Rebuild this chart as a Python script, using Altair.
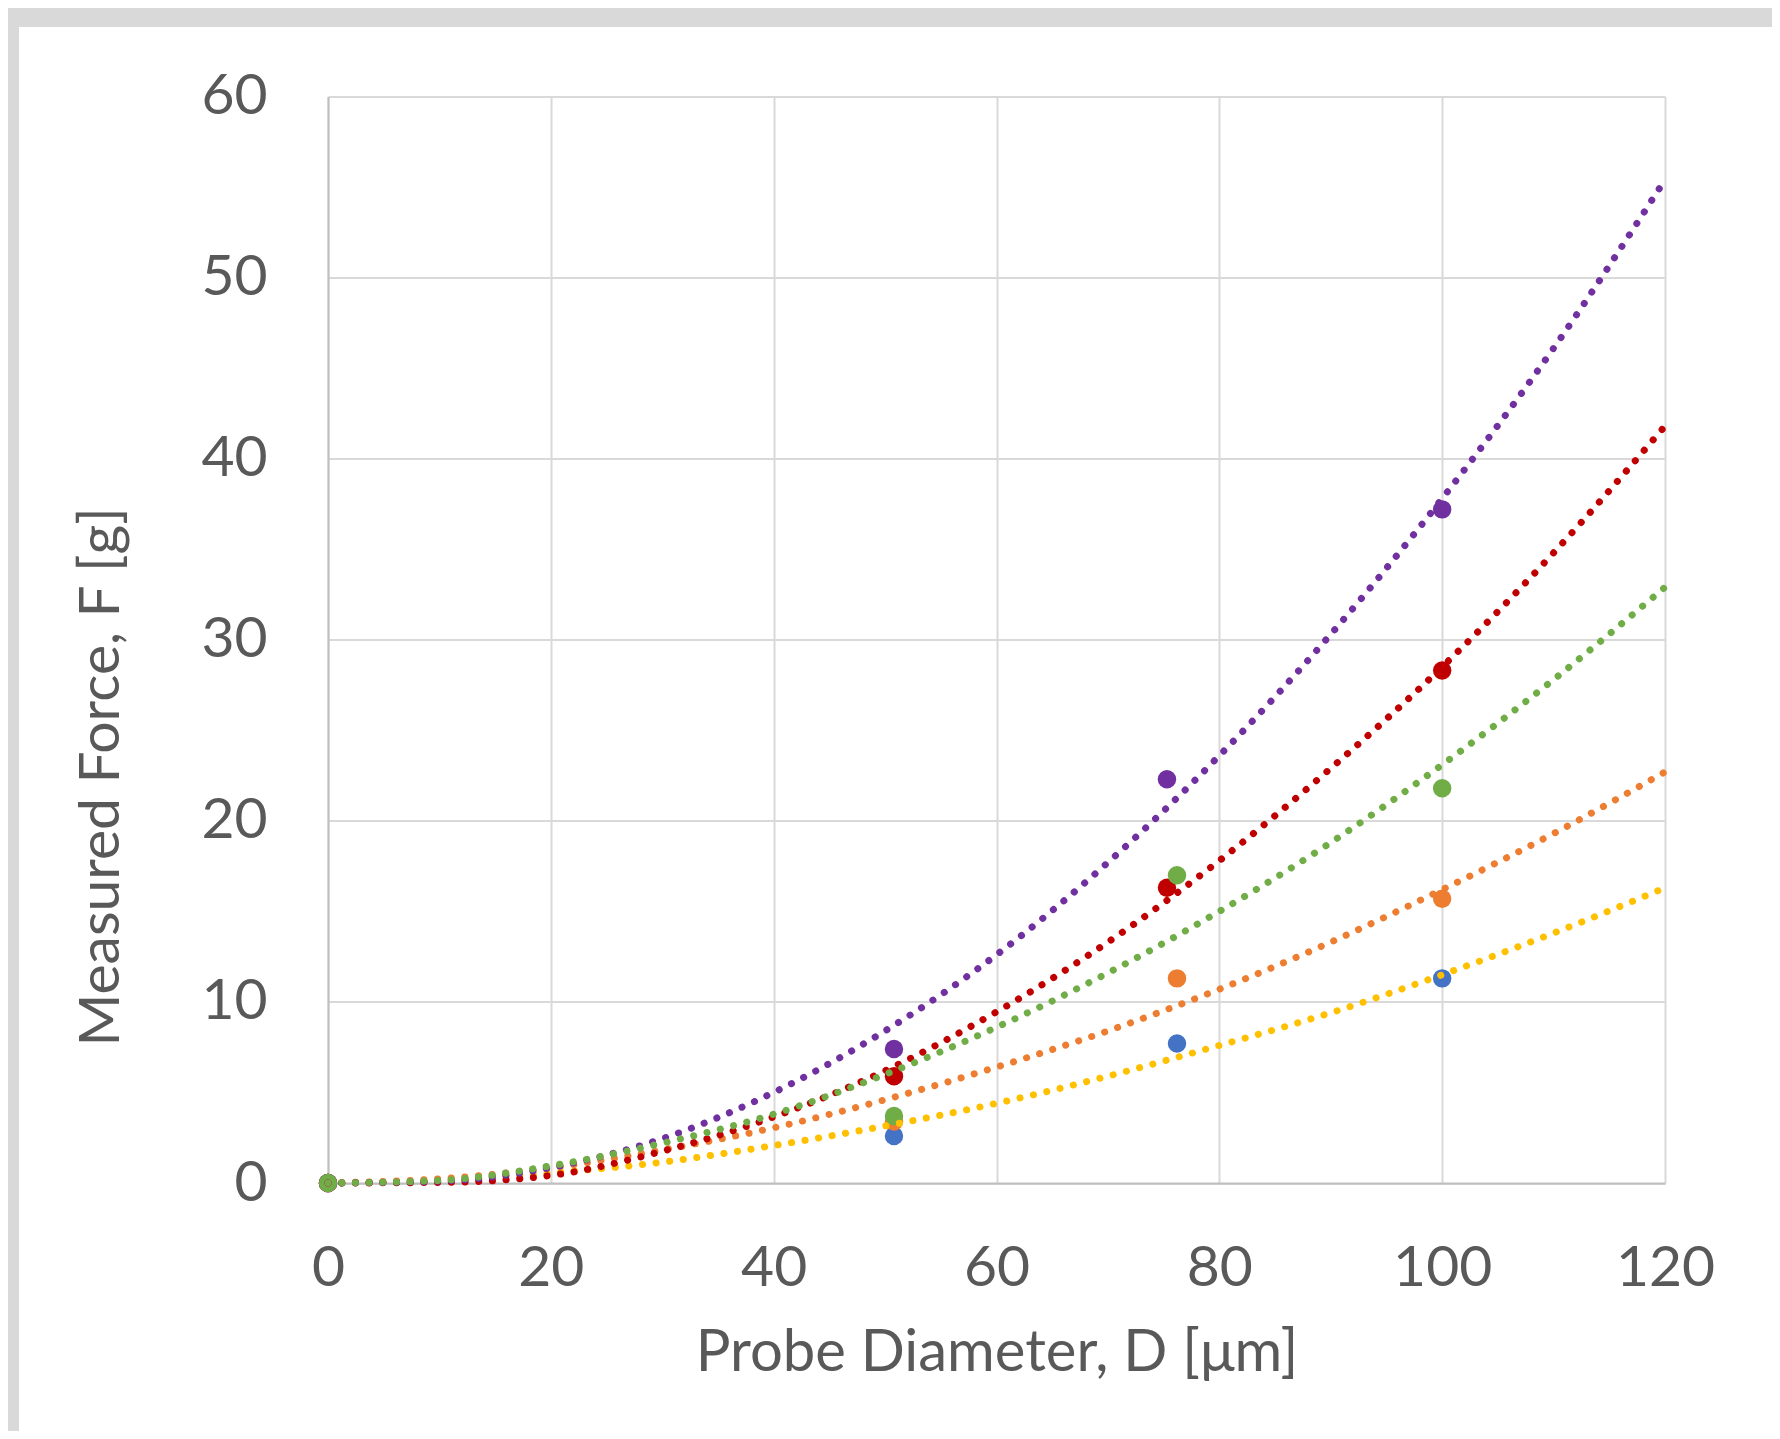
import altair as alt
import pandas as pd

# ---- measured points ----
series_names = ["Blue", "Orange", "Red", "Purple", "Green"]
point_colors = ["#4472C4", "#ED7D31", "#C00000", "#7030A0", "#70AD47"]
blue_x = [0, 50.8, 76.2, 100.0]
blue_y = [0, 2.6, 7.7, 11.3]
orange_x = [0, 50.8, 76.2, 100.0]
orange_y = [0, 3.4, 11.3, 15.7]
red_x = [0, 50.8, 75.3, 100.0]
red_y = [0, 5.9, 16.3, 28.3]
purple_x = [0, 50.8, 75.3, 100.0]
purple_y = [0, 7.4, 22.3, 37.2]
green_x = [0, 50.8, 76.2, 100.0]
green_y = [0, 3.7, 17.0, 21.8]

# ---- dotted trendlines ----
trend_names = ["Blue fit", "Orange fit", "Red fit", "Purple fit", "Green fit"]
trend_colors = ["#FFC000", "#ED7D31", "#C00000", "#7030A0", "#70AD47"]
trend_x = [0, 10, 20, 30, 40, 50, 60, 70, 80, 90, 100, 110, 120]
trend_blue = [0, 0.15, 0.56, 1.15, 2.07, 3.15, 4.4, 5.9, 7.6, 9.4, 11.5, 13.8, 16.3]
trend_orange = [0, 0.23, 0.84, 1.83, 3.05, 4.6, 6.4, 8.4, 10.7, 13.3, 16.2, 19.3, 22.7]
trend_red = [0, 0.03, 0.42, 1.75, 3.65, 6.2, 9.45, 13.3, 17.8, 22.9, 28.5, 34.8, 41.8]
trend_purple = [0, 0.1, 0.85, 2.45, 5.0, 8.4, 12.6, 17.7, 23.6, 30.3, 37.8, 46.1, 55.4]
trend_green = [0, 0.14, 0.95, 2.2, 3.8, 6.0, 8.6, 11.6, 15.0, 18.8, 23.1, 27.8, 32.9]

x_ticks = [0, 20, 40, 60, 80, 100, 120]
y_ticks = [0, 10, 20, 30, 40, 50, 60]

# ---- build tables ----
pts_rows = []
for name, col, xs, ys in zip(series_names, point_colors,
                             [blue_x, orange_x, red_x, purple_x, green_x],
                             [blue_y, orange_y, red_y, purple_y, green_y]):
    for xv, yv in zip(xs, ys):
        pts_rows.append({"series": name, "color": col, "D": xv, "F": yv})
pts = pd.DataFrame(pts_rows)
pts["order"] = range(len(pts))

tr_rows = []
for name, col, ys in zip(trend_names, trend_colors,
                         [trend_blue, trend_orange, trend_red, trend_purple, trend_green]):
    for xv, yv in zip(trend_x, ys):
        tr_rows.append({"series": name, "color": col, "D": xv, "F": yv})
tr = pd.DataFrame(tr_rows)

W, H = 1337, 1086.5
FONT = "Lato"
GRAY = "#595959"

x_enc = alt.X("D:Q", scale=alt.Scale(domain=[0, 120], nice=False),
              axis=alt.Axis(values=x_ticks, title="Probe Diameter, D [μm]",
                            grid=True, gridColor="#d9d9d9", gridWidth=2,
                            domainColor="#bfbfbf", domainWidth=2,
                            ticks=False, tickSize=0, labelFlush=False,
                            labelFont=FONT, labelFontSize=57, labelColor=GRAY,
                            labelBaseline="alphabetic", labelPadding=102,
                            titleFont=FONT, titleFontSize=58, titleColor=GRAY,
                            titleFontWeight="normal", titleBaseline="alphabetic",
                            titleY=187, titleX=W / 2, titleAlign="center"))
y_enc = alt.Y("F:Q", scale=alt.Scale(domain=[0, 60], nice=False),
              axis=alt.Axis(values=y_ticks, title="Measured Force, F [g]",
                            grid=True, gridColor="#d9d9d9", gridWidth=2,
                            domainColor="#bfbfbf", domainWidth=2,
                            ticks=False, tickSize=0, labelFlush=False,
                            labelFont=FONT, labelFontSize=57, labelColor=GRAY,
                            labelPadding=61,
                            titleFont=FONT, titleFontSize=57, titleColor=GRAY,
                            titleFontWeight="normal", titleBaseline="alphabetic",
                            titleAngle=270, titleX=-210, titleY=680,
                            titleAlign="center"))

points = alt.Chart(pts).mark_circle(size=340, opacity=1).encode(
    x=x_enc, y=y_enc,
    color=alt.Color("color:N", scale=None),
    order=alt.Order("order:Q"),
)

trends = alt.Chart(tr).mark_line(
    strokeDash=[0.1, 13.6], strokeCap="round", strokeWidth=7,
    interpolate="monotone",
).encode(
    x="D:Q", y="F:Q",
    detail="series:N",
    color=alt.Color("color:N", scale=None),
)

band_top = alt.Chart(alt.Data(values=[{"a": 1}])).mark_rect(color="#d9d9d9").encode(
    x=alt.value(-320), x2=alt.value(W + 107), y=alt.value(-88.5), y2=alt.value(-69.5)
)
band_left = alt.Chart(alt.Data(values=[{"a": 1}])).mark_rect(color="#d9d9d9").encode(
    x=alt.value(-320), x2=alt.value(-309), y=alt.value(-69.5), y2=alt.value(H + 248)
)

chart = alt.layer(band_top, band_left, points, trends).properties(
    width=W, height=H,
    autosize=alt.AutoSizeParams(type="none"),
    padding={"left": 320, "top": 88.5, "right": 107, "bottom": 248},
    background="white",
).configure_view(stroke=None)

chart.save("out.html", embed_options={"renderer": "svg", "actions": False})
